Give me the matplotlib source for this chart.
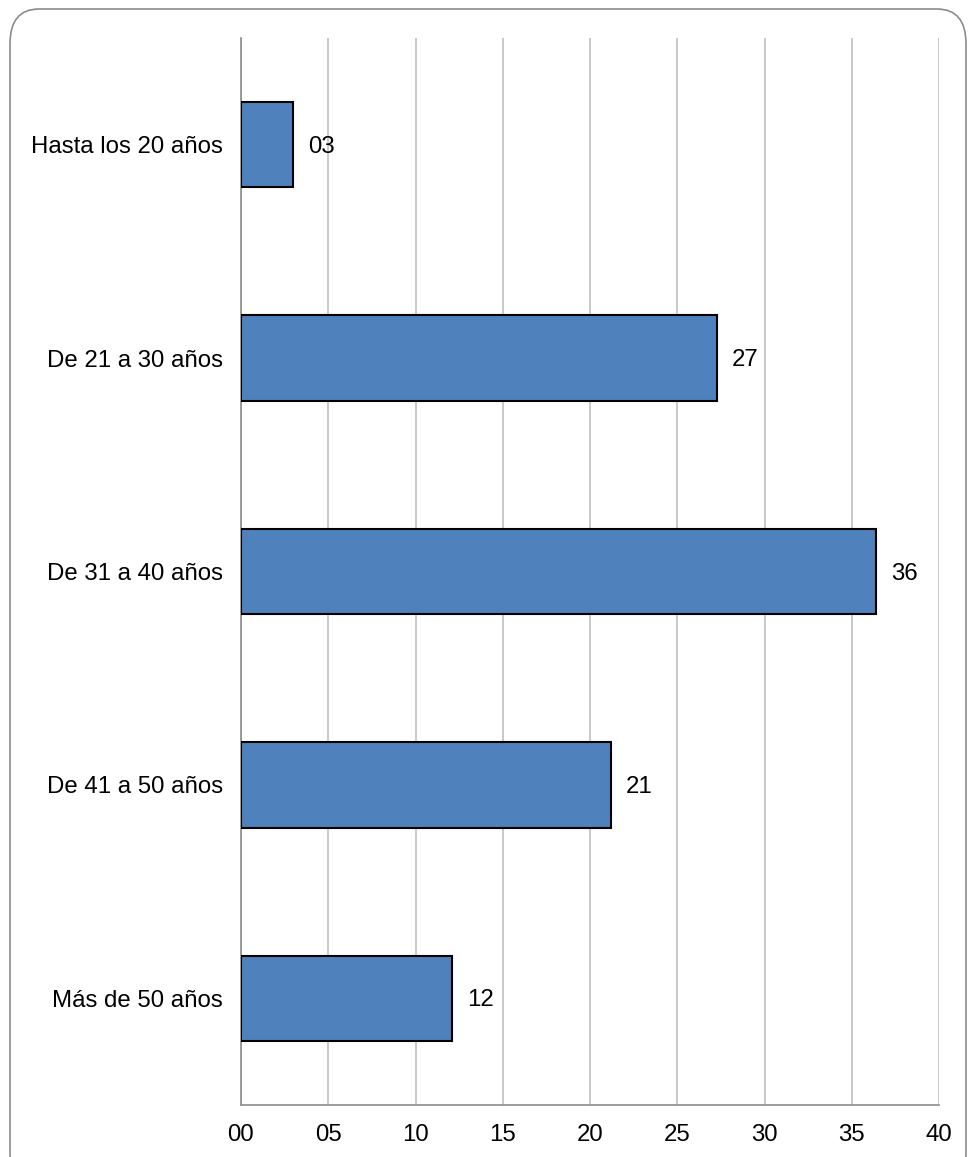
import matplotlib
matplotlib.use("Agg")
from matplotlib import pyplot as plt
from matplotlib.patches import FancyBboxPatch

categories = ['Hasta los 20 años', 'De 21 a 30 años', 'De 31 a 40 años',
              'De 41 a 50 años', 'Más de 50 años']
values = [3.0, 27.3, 36.4, 21.2, 12.1]
xticks = [0, 5, 10, 15, 20, 25, 30, 35, 40]

plt.rcParams['font.family'] = ['Liberation Sans', 'DejaVu Sans']

W, H = 968, 1157
fig = plt.figure(figsize=(W / 100, H / 100), dpi=100)

# rounded frame around the chart
frame = FancyBboxPatch((10 / W, -30 / H), 956 / W, (H - 9 + 30) / H,
                       boxstyle="round,pad=0,rounding_size=0.03",
                       transform=fig.transFigure, facecolor='none',
                       edgecolor='#8c8c8c', linewidth=1.2, zorder=-1)
fig.patches.append(frame)

ax = fig.add_axes([241 / W, (H - 1105) / H, 698 / W, 1067 / H])
ax.patch.set_alpha(0)

fs = 17.3
ypos = list(range(len(categories)))
ax.barh(ypos, values, height=0.4, color='#4F81BD', edgecolor='black',
        linewidth=1.5, zorder=3)
for y, v in zip(ypos, values):
    ax.text(v + 0.85, y + 0.01, '%02.0f' % v, va='center', ha='left', fontsize=fs)

ax.set_ylim(len(categories) - 0.5, -0.5)
ax.set_yticks(ypos)
ax.set_yticklabels(categories, fontsize=fs)
ax.set_xlim(0, 40)
ax.set_xticks(xticks)
ax.set_xticklabels(['%02d' % t for t in xticks], fontsize=fs)
ax.tick_params(axis='y', length=0, pad=13)
ax.tick_params(axis='x', length=0, pad=14)
ax.grid(axis='x', color='#c0c0c0', linewidth=1.2, zorder=0)
for s in ['top', 'right']:
    ax.spines[s].set_visible(False)
for s in ['left', 'bottom']:
    ax.spines[s].set_color('#8c8c8c')
    ax.spines[s].set_linewidth(1.2)

plt.savefig('out.png', dpi=100)
